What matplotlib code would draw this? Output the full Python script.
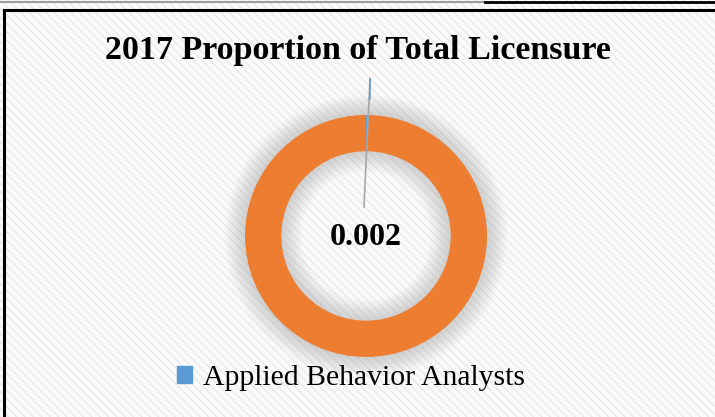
import matplotlib.pyplot as plt
from matplotlib.patches import Wedge, Rectangle
from matplotlib.lines import Line2D
import numpy as np

# data
categories = ["Applied Behavior Analysts", "All Other Licensure"]
shares = [0.002, 0.998]
legend_labels = ["Applied Behavior Analysts"]
title = "2017 Proportion of Total Licensure"
label_text = "0.002"

colors = ["#5B9BD5", "#ED7D31"]

fig = plt.figure(figsize=(7.15, 4.17), dpi=100)
fig.patch.set_facecolor("white")
ax = fig.add_axes([0, 0, 1, 1])

wedges, _ = ax.pie(shares, colors=colors, startangle=90, counterclock=False,
                   radius=1.0, wedgeprops=dict(width=0.3, edgecolor="none"))
for w in wedges:
    w.set_zorder(2)

# pie() sets its own limits, so put ours back afterwards
ax.set_xlim(-3.025, 2.884)
ax.set_ylim(-1.496, 1.950)
ax.set_aspect("equal")
ax.axis("off")

# striped chart-area background
bg = Rectangle((-3.1, -1.6), 6.1, 3.7, facecolor="#fafafa", edgecolor="#e9e9e9",
               hatch="\\\\\\\\", linewidth=0, zorder=0)
ax.add_patch(bg)

# soft shadow around ring
for k in range(14):
    d = 0.012 * (k + 1)
    ax.add_patch(Wedge((0, 0), 1 + d, 0, 360, width=0.3 + 2 * d,
                       facecolor="#9a9a9a", edgecolor="none", alpha=0.03, zorder=1))

# leader line from label to the blue slice
w0 = wedges[0]
mid = np.deg2rad((w0.theta1 + w0.theta2) / 2)
tip = (1.30 * np.cos(mid) + 0.025, 1.30 * np.sin(mid))
ax.add_line(Line2D([tip[0], -0.017], [tip[1], 0.24], color="#a6a6a6", lw=1.2, zorder=3))
ax.add_line(Line2D([tip[0], tip[0] - 0.001], [tip[1], tip[1] - 0.17], color="#5B9BD5", lw=1.0, zorder=4))

ax.text(0, -0.01, label_text, ha="center", va="center", fontsize=23, fontweight="bold",
        family="Liberation Serif", zorder=5)

fig.text(358 / 715, 1 - 50 / 417, title, ha="center", va="center", fontsize=24.5,
         fontweight="bold", family="Liberation Serif")

leg = fig.legend([Rectangle((0, 0), 1, 1, color=colors[0])], legend_labels,
                 loc="center", bbox_to_anchor=(351 / 715, 1 - 378 / 417), frameon=False,
                 prop=dict(family="Liberation Serif", size=21.4), handlelength=0.5,
                 handleheight=0.5, handletextpad=0.35)

# frame lines
fig.add_artist(Line2D([0, 485 / 715], [1 - 1.5 / 417] * 2, color="#9a9a9a", lw=1.5))
fig.add_artist(Line2D([485 / 715, 1], [1 - 1.5 / 417] * 2, color="black", lw=2))
fig.add_artist(Line2D([3.5 / 715, 1], [1 - 10 / 417] * 2, color="black", lw=2.2))
fig.add_artist(Line2D([3.5 / 715] * 2, [0, 1 - 10 / 417], color="black", lw=2.2))

fig.savefig("out.png", dpi=100, facecolor="white")
